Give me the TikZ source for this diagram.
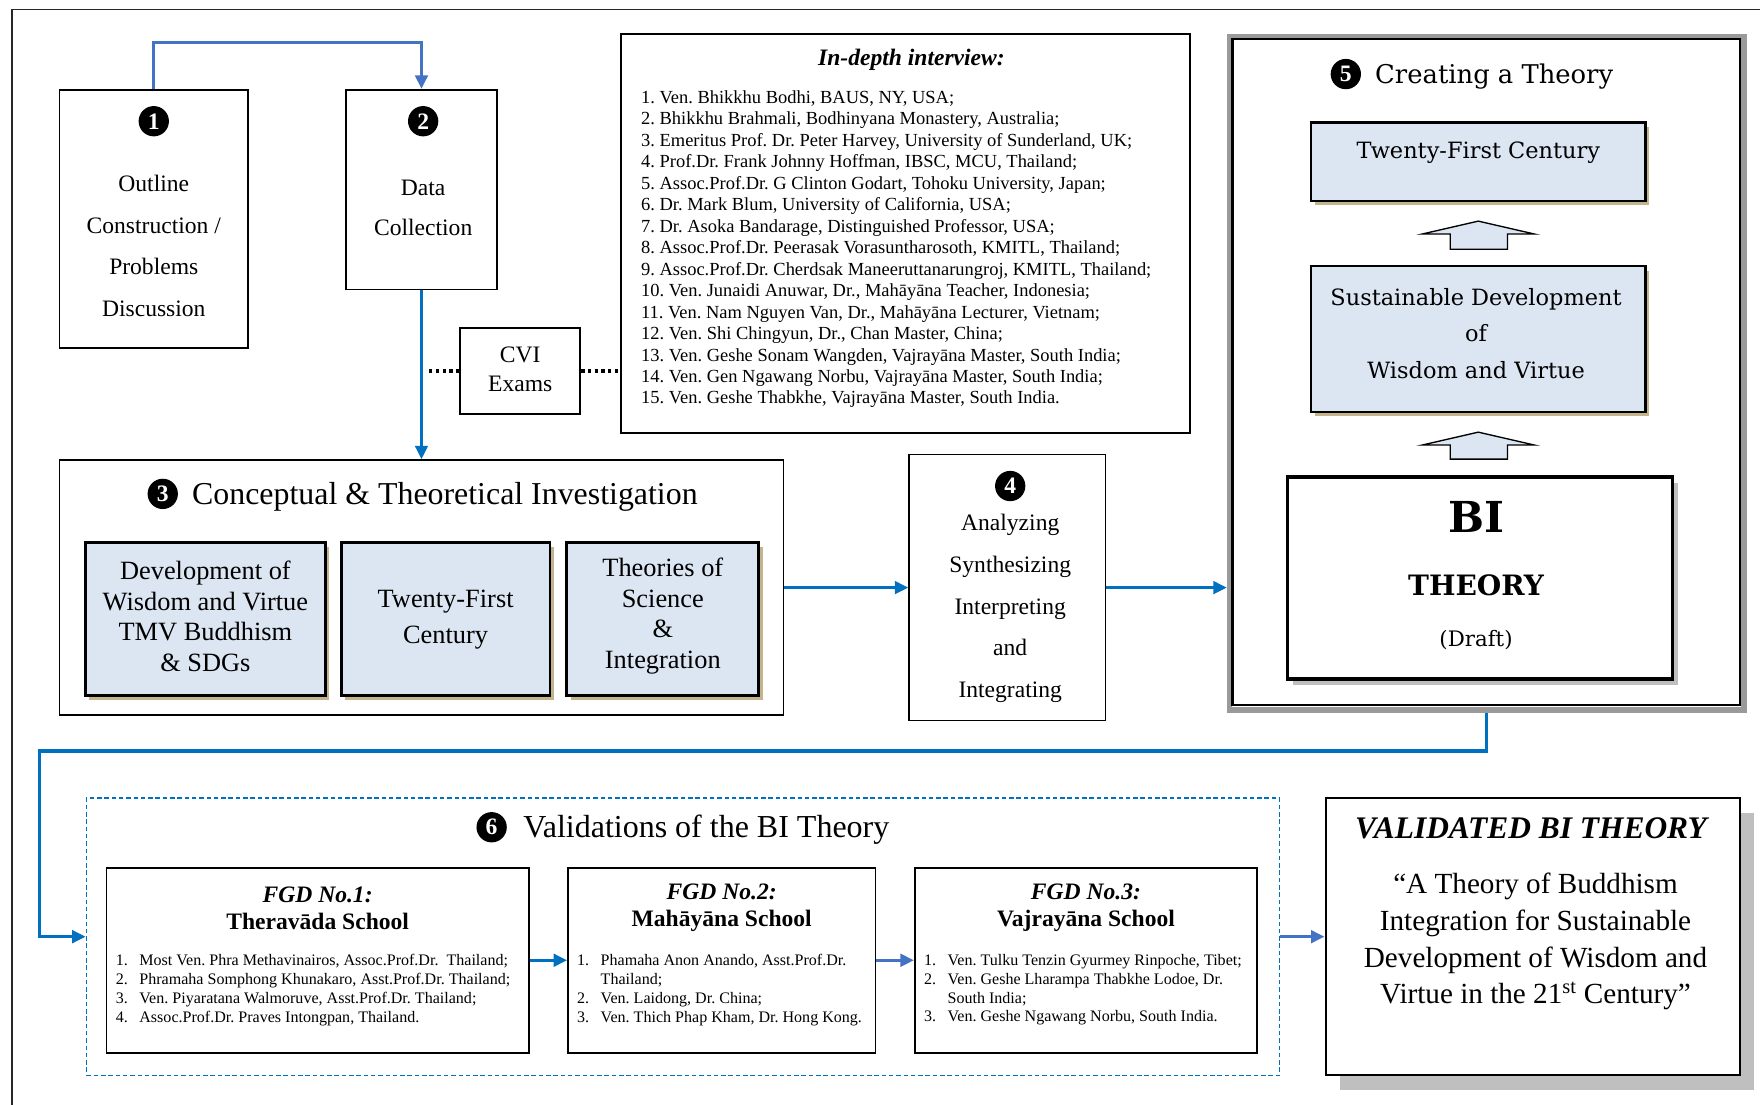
\documentclass[tikz,border=0pt]{standalone}
\usepackage{fontspec}
\setmainfont{Liberation Serif}
\newfontfamily\schfont{DejaVu Serif}
\usetikzlibrary{arrows.meta,calc,shadows}

\definecolor{flowblue}{HTML}{0070C0}
\definecolor{softblue}{HTML}{4472C4}
\definecolor{panel}{HTML}{DCE6F2}
\definecolor{tanshadow}{HTML}{C4B48C}
\definecolor{greyshadow}{HTML}{BFBFBF}
\definecolor{greyframe}{HTML}{9A9A9A}

\newcommand\fs[2]{\fontsize{#1}{#2}\selectfont}
\newcommand\num[1]{\makebox[21pt][l]{#1}}

\tikzset{
  plainbox/.style={draw=black, line width=1.6pt, fill=white, inner sep=0pt},
  panelbox/.style={draw=black, line width=2.6pt, fill=panel, inner sep=0pt,
    drop shadow={shadow xshift=3.5pt, shadow yshift=-4pt, fill=tanshadow, opacity=1}},
  badge/.style={circle, fill=black, text=white, inner sep=0pt, minimum size=27pt,
    font=\bfseries\fs{21}{21}},
  txt/.style={inner sep=0pt, align=center},
  flowA/.style={draw=flowblue, line width=3pt, -{Triangle[length=12pt,width=11pt]}},
  flowB/.style={draw=softblue, line width=3pt, -{Triangle[length=12pt,width=11pt]}},
  dotline/.style={draw=black, line width=3pt, dash pattern=on 3pt off 3pt},
  uparrow/.style={draw=black, line width=1.2pt, fill=panel, line join=miter},
}

\begin{document}
\frenchspacing
\begin{tikzpicture}[x=1pt, y=-1pt]
\clip (0,0) rectangle (1568,984);
\fill[white] (0,0) rectangle (1568,984);

% page frame
\draw[line width=1.5pt, black!85] (10.5,8.5) rectangle (1620,1040);

% ---- stage 1 and 2 ----
\node[plainbox, minimum width=168, minimum height=230] (b1) at (137,195) {};
\node[badge] (n1) at (137,108) {1};
\node[txt, font=\fs{21}{37}] (t1) at (137,219) {Outline\\Construction /\\Problems\\Discussion};

\node[plainbox, minimum width=135, minimum height=178] (b2) at (375.5,169) {};
\node[badge] (n2) at (377,108) {2};
\node[txt, font=\fs{21}{36}] (t2) at (377,185) {Data\\Collection};

\node[plainbox, line width=1.5pt, minimum width=107, minimum height=77] (cvi) at (463.5,330.5) {};
\node[txt, font=\fs{21}{26}] (tcvi) at (463.5,329) {CVI\\Exams};

% ---- interview list ----
\node[plainbox, line width=1.5pt, minimum width=507, minimum height=356] (intv) at (806.5,208) {};
\node[txt, font=\bfseries\itshape\fs{21}{24}] (intvt) at (812,53) {In-depth interview:};
\node[txt, align=left, anchor=west, font=\fs{16.45}{19.14}] (intvl) at (571,222) {%
1. Ven. Bhikkhu Bodhi, BAUS, NY, USA;\\
2. Bhikkhu Brahmali, Bodhinyana Monastery, Australia;\\
3. Emeritus Prof. Dr. Peter Harvey, University of Sunderland, UK;\\
4. Prof.Dr. Frank Johnny Hoffman, IBSC, MCU, Thailand;\\
5. Assoc.Prof.Dr. G Clinton Godart, Tohoku University, Japan;\\
6. Dr. Mark Blum, University of California, USA;\\
7. Dr. Asoka Bandarage, Distinguished Professor, USA;\\
8. Assoc.Prof.Dr. Peerasak Vorasuntharosoth, KMITL, Thailand;\\
9. Assoc.Prof.Dr. Cherdsak Maneeruttanarungroj, KMITL, Thailand;\\
10. Ven. Junaidi Anuwar, Dr., Mahāyāna Teacher, Indonesia;\\
11. Ven. Nam Nguyen Van, Dr., Mahāyāna Lecturer, Vietnam;\\
12. Ven. Shi Chingyun, Dr., Chan Master, China;\\
13. Ven. Geshe Sonam Wangden, Vajrayāna Master, South India;\\
14. Ven. Gen Ngawang Norbu, Vajrayāna Master, South India;\\
15. Ven. Geshe Thabkhe, Vajrayāna Master, South India.};

% ---- stage 3 ----
\node[plainbox, minimum width=645, minimum height=227] (b3) at (375.5,523.5) {};
\node[badge] (n3) at (145,440) {3};
\node[txt, anchor=west, font=\fs{28.4}{30}] (t3) at (171,443) {Conceptual \& Theoretical Investigation};

\node[panelbox, minimum width=214, minimum height=137] (s1) at (183,551.5) {};
\node[panelbox, minimum width=186, minimum height=137] (s2) at (397,551.5) {};
\node[panelbox, minimum width=171, minimum height=137] (s3) at (590.5,551.5) {};
\node[txt, font=\fs{23.5}{27.3}] (ts1) at (183,549) {Development of\\Wisdom and Virtue\\TMV Buddhism\\\& SDGs};
\node[txt, font=\fs{23.5}{32}] (ts2) at (397,552) {Twenty-First\\Century};
\node[txt, font=\fs{23.5}{27.3}] (ts3) at (590.5,549) {Theories of\\Science\\\&\\Integration};

% ---- stage 4 ----
\node[plainbox, line width=1.5pt, minimum width=175, minimum height=237] (b4) at (897.5,523.5) {};
\node[badge] (n4) at (900,433) {4};
\node[txt, font=\fs{21}{37}] (t4) at (900,542) {Analyzing\\Synthesizing\\Interpreting\\and\\Integrating};

% ---- stage 5 ----
\node[draw=greyframe, line width=5pt, fill=white, inner sep=0pt, minimum width=458, minimum height=600] (b5) at (1324.5,332.5) {};
\draw[black, line width=2pt] (1098,35) rectangle (1550,628);
\node[badge] (n5) at (1199,66) {5};
\node[txt, anchor=west, font=\schfont\fs{23}{26}] (t5) at (1225,68) {Creating a Theory};

\node[panelbox, line width=2.2pt, minimum width=298, minimum height=70] (t21) at (1317,144) {};
\node[txt, font=\schfont\fs{20}{24}] (tt21) at (1317,136) {Twenty-First Century};

\draw[uparrow] (1317,197) -- (1367,208.5) -- (1343,208.5) -- (1343,222) -- (1292,222)
  -- (1292,208.5) -- (1267,208.5) -- cycle;

\node[panelbox, line width=2.2pt, minimum width=298, minimum height=130] (sdw) at (1317,302) {};
\node[txt, font=\schfont\fs{20}{32.5}] (tsdw) at (1315,297) {Sustainable Development\\of\\Wisdom and Virtue};

\draw[uparrow] (1317,385) -- (1367,396.5) -- (1343,396.5) -- (1343,409) -- (1292,409)
  -- (1292,396.5) -- (1267,396.5) -- cycle;

\node[draw=black, line width=3.2pt, fill=white, inner sep=0pt, minimum width=343, minimum height=180,
  drop shadow={shadow xshift=5pt, shadow yshift=-5pt, fill=greyshadow, opacity=1}] (bi) at (1318.5,515) {};
\node[txt, font=\schfont\bfseries\fs{38}{40}] (tbi) at (1315,461) {BI};
\node[txt, font=\schfont\bfseries\fs{25}{28}] (tth) at (1315,521) {THEORY};
\node[txt, font=\schfont\fs{19}{22}] (tdr) at (1315,570) {(Draft)};

% ---- stage 6 ----
\node[draw=flowblue, line width=1.3pt, dash pattern=on 4pt off 2.5pt, inner sep=0pt,
  minimum width=1063, minimum height=247] (b6) at (608.5,834.5) {};
\node[badge] (n6) at (438,737) {6};
\node[txt, anchor=west, font=\fs{28.5}{30}] (t6) at (466,739) {Validations of the BI Theory};

\node[plainbox, line width=1.5pt, minimum width=376, minimum height=165] (f1) at (283,855.5) {};
\node[plainbox, line width=1.5pt, minimum width=274, minimum height=165] (f2) at (643,855.5) {};
\node[plainbox, line width=1.5pt, minimum width=305, minimum height=165] (f3) at (967.5,855.5) {};

\node[txt, font=\fs{21}{24}] (tf1) at (283,809) {{\bfseries\itshape FGD No.1:}\\{\bfseries Theravāda School}};
\node[txt, font=\fs{21}{24}] (tf2) at (643,809) {{\bfseries\itshape FGD No.2:}\\{\bfseries Mahāyāna School}};
\node[txt, font=\fs{21}{24}] (tf3) at (967.5,809) {{\bfseries\itshape FGD No.3:}\\{\bfseries Vajrayāna School}};

\node[txt, align=left, anchor=west, font=\fs{14.3}{16.7}] (lf1) at (103,882) {%
\num{1.}Most Ven. Phra Methavinairos, Assoc.Prof.Dr.\ \ Thailand;\\
\num{2.}Phramaha Somphong Khunakaro, Asst.Prof.Dr. Thailand;\\
\num{3.}Ven. Piyaratana Walmoruve, Asst.Prof.Dr. Thailand;\\
\num{4.}Assoc.Prof.Dr. Praves Intongpan, Thailand.};
\node[txt, align=left, anchor=west, font=\fs{14.3}{16.7}] (lf2) at (514,882) {%
\num{1.}Phamaha Anon Anando, Asst.Prof.Dr.\\
\num{}Thailand;\\
\num{2.}Ven. Laidong, Dr. China;\\
\num{3.}Ven. Thich Phap Kham, Dr. Hong Kong.};
\node[txt, align=left, anchor=west, font=\fs{14.3}{16.7}] (lf3) at (823,882) {%
\num{1.}Ven. Tulku Tenzin Gyurmey Rinpoche, Tibet;\\
\num{2.}Ven. Geshe Lharampa Thabkhe Lodoe, Dr.\\
\num{}South India;\\
\num{3.}Ven. Geshe Ngawang Norbu, South India.};

% ---- validated theory ----
\node[draw=black, line width=2pt, fill=white, inner sep=0pt, minimum width=369, minimum height=247,
  drop shadow={shadow xshift=13pt, shadow yshift=-13pt, fill=greyshadow, opacity=1}] (val) at (1365.5,834.5) {};
\node[txt, font=\bfseries\itshape\fs{28}{30}] (tval) at (1364,738) {VALIDATED BI THEORY};
\node[txt, font=\fs{26}{32.7}] (bval) at (1368,839) {“A Theory of Buddhism\\Integration for Sustainable\\Development of Wisdom and\\Virtue in the 21\textsuperscript{st} Century”};

% ---- connectors ----
\coordinate (top12) at (137,38);
\draw[flowB] (b1.north) -- (top12) -| (b2.north);
\draw[flowA] (b2.south) -- (b2.south |- b3.north);
\coordinate (dotL) at ($(b2.south |- cvi.west)+(4,0)$);
\draw[dotline] (cvi.west) -- (dotL);
\draw[dotline] (cvi.east) -- (cvi.east -| intv.west);
\draw[flowA] (b3.east) -- (b4.west);
\draw[flowA] (b4.east) -- (b4.east -| b5.west);
\coordinate (turn) at (35,669);
\draw[flowA] (b5.south) |- (turn) |- (b6.west);
\draw[flowA] (f1.east) -- (f2.west);
\draw[flowB] (f2.east) -- (f3.west);
\draw[flowB] (b6.east) -- (val.west);
\end{tikzpicture}
\end{document}
